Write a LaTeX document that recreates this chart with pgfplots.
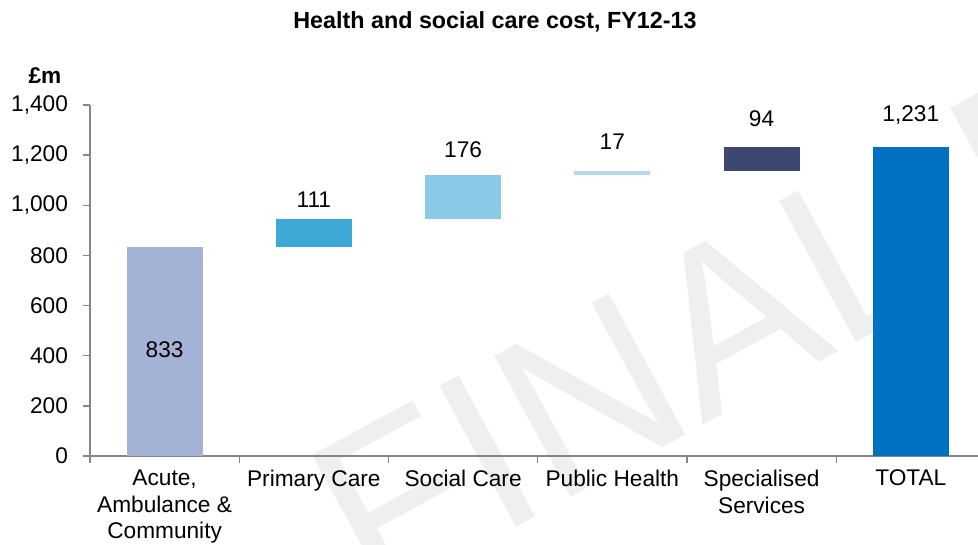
\documentclass[border=0pt]{standalone}
\usepackage{pgfplots}
\pgfplotsset{compat=1.18}
\usepackage{fontspec}
\setmainfont{Liberation Sans}
\definecolor{cA}{HTML}{A4B2D5}
\definecolor{cP}{HTML}{3EA8D7}
\definecolor{cS}{HTML}{8ACAE6}
\definecolor{cPH}{HTML}{B2DCEE}
\definecolor{cSp}{HTML}{3C4870}
\definecolor{cT}{HTML}{0070C0}
\definecolor{axgray}{HTML}{868686}
\definecolor{wm}{HTML}{EFEFEF}
\newcommand{\lbl}{\fontsize{17}{20}\selectfont}
\begin{document}
\begin{tikzpicture}
\path[use as bounding box] (-67.5pt,-66pt) rectangle (666pt,342pt);
\node[rotate=28.5, anchor=base west, text=wm, inner sep=0pt, font=\fontsize{175}{175}\selectfont] at (211.6pt,-112.1pt) {FINAL DRAFT};
\pgfplotsset{base/.style={at={(0,0)}, anchor=south west, scale only axis,
  width=666pt, height=263.25pt, xmin=-0.5, xmax=5.45, ymin=0, ymax=1400}}
\begin{axis}[base, ybar stacked, bar width=0.51,
  axis x line*=bottom, axis y line*=left,
  axis line style={draw=axgray, line width=1.2pt},
  tick align=outside, major tick length=5pt,
  tick style={draw=axgray, line width=1pt},
  ytick={0,200,...,1400},
  xtick={-0.5,0.5,1.5,2.5,3.5,4.5}, xticklabels={},
  extra x ticks={0,1,2,3,4,5},
  extra x tick labels={{Acute,\\Ambulance \&\\Community},Primary Care,Social Care,Public Health,{Specialised\\Services},TOTAL},
  extra x tick style={tick style={draw=none}},
  xticklabel style={align=center, font=\lbl, yshift=-2pt},
  yticklabel style={font=\lbl, xshift=-8pt},
  /pgf/number format/.cd, 1000 sep={,}, assume math mode=true, /pgfplots/.cd,
  ]
\addplot[draw=none, fill=none] coordinates {(0,0) (1,833) (2,944) (3,1120) (4,1137) (5,0)};
\addplot[draw=none, fill=cA] coordinates {(0,833) (1,0) (2,0) (3,0) (4,0) (5,0)};
\addplot[draw=none, fill=cP] coordinates {(0,0) (1,111) (2,0) (3,0) (4,0) (5,0)};
\addplot[draw=none, fill=cS] coordinates {(0,0) (1,0) (2,176) (3,0) (4,0) (5,0)};
\addplot[draw=none, fill=cPH] coordinates {(0,0) (1,0) (2,0) (3,17) (4,0) (5,0)};
\addplot[draw=none, fill=cSp] coordinates {(0,0) (1,0) (2,0) (3,0) (4,94) (5,0)};
\addplot[draw=none, fill=cT] coordinates {(0,0) (1,0) (2,0) (3,0) (4,0) (5,1231)};
\end{axis}
\begin{axis}[base, hide axis, clip=false,
  title={Health and social care cost, FY12-13},
  title style={at={(0.456,1.213)}, anchor=center, font=\bfseries\fontsize{17.5}{20}\selectfont}]
\addplot[draw=none, nodes near coords, point meta=explicit symbolic,
  nodes near coords style={anchor=center, font=\lbl, text=black}]
  coordinates {(0,423)[833] (1,1021)[111] (2,1220)[176] (3,1253)[17] (4,1344)[94] (5,1360)[1{,}231]};
\node[font=\bfseries\lbl] at (axis description cs:-0.0507,1.085) {£m};
\end{axis}
\end{tikzpicture}
\end{document}
